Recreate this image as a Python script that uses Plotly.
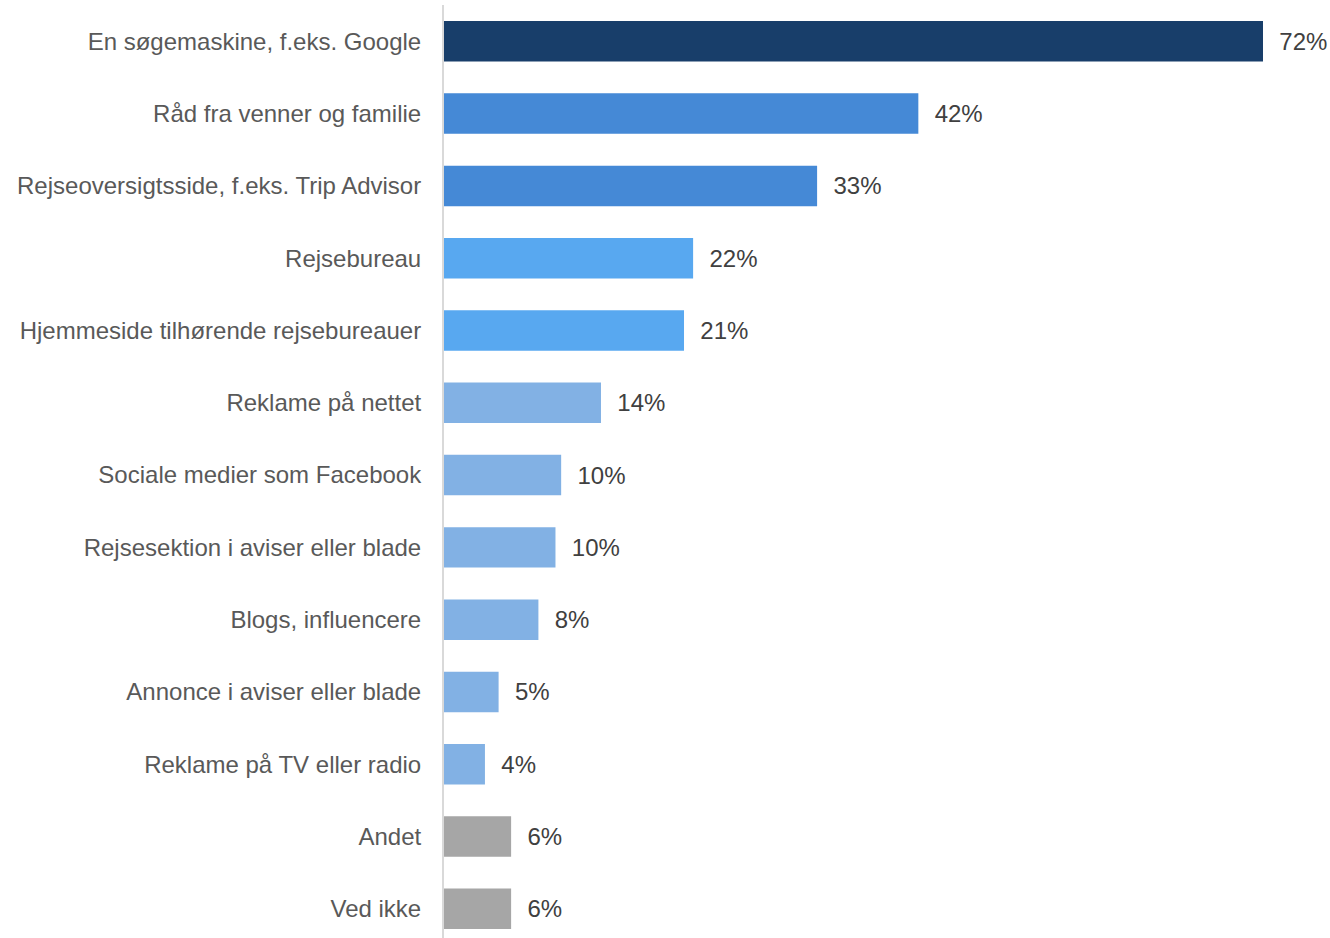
import plotly.graph_objects as go

categories = [
    "En søgemaskine, f.eks. Google",
    "Råd fra venner og familie",
    "Rejseoversigtsside, f.eks. Trip Advisor",
    "Rejsebureau",
    "Hjemmeside tilhørende rejsebureauer",
    "Reklame på nettet",
    "Sociale medier som Facebook",
    "Rejsesektion i aviser eller blade",
    "Blogs, influencere",
    "Annonce i aviser eller blade",
    "Reklame på TV eller radio",
    "Andet",
    "Ved ikke",
]
values = [72.0, 41.7, 32.8, 21.9, 21.1, 13.8, 10.3, 9.8, 8.3, 4.8, 3.6, 5.9, 5.9]
value_labels = ["72%", "42%", "33%", "22%", "21%", "14%", "10%", "10%", "8%", "5%", "4%", "6%", "6%"]
bar_colors = [
    "#183E6A",
    "#4589D6", "#4589D6",
    "#58A8F0", "#58A8F0",
    "#82B1E4", "#82B1E4", "#82B1E4", "#82B1E4", "#82B1E4", "#82B1E4",
    "#A6A6A6", "#A6A6A6",
]

fig = go.Figure(
    go.Bar(
        x=values,
        y=categories,
        orientation="h",
        marker=dict(color=bar_colors, line=dict(width=0)),
        text=["\u00a0\u00a0" + t for t in value_labels],
        textposition="outside",
        textfont=dict(family="Liberation Sans, Arial, sans-serif", size=24, color="#404040"),
        cliponaxis=False,
        hoverinfo="skip",
    )
)

fig.update_layout(
    width=1330,
    height=938,
    margin=dict(l=444, r=67, t=5, b=0),
    paper_bgcolor="white",
    plot_bgcolor="white",
    bargap=0.44,
    showlegend=False,
    font=dict(family="Liberation Sans, Arial, sans-serif", size=24, color="#595959"),
)
fig.update_xaxes(
    range=[0, 72],
    showgrid=False,
    zeroline=False,
    showticklabels=False,
    showline=False,
    ticks="",
)
fig.update_yaxes(
    type="category",
    categoryorder="array",
    categoryarray=categories,
    range=[12.403, -0.502],
    showgrid=False,
    zeroline=False,
    showline=True,
    linecolor="#D9D9D9",
    linewidth=2,
    ticks="",
    ticklabelstandoff=16,
    tickfont=dict(family="Liberation Sans, Arial, sans-serif", size=24, color="#595959"),
)

fig.write_html(
    "out.html",
    config={"displayModeBar": False},
    post_script="document.body.style.margin='0px';document.body.style.padding='0px';",
)
